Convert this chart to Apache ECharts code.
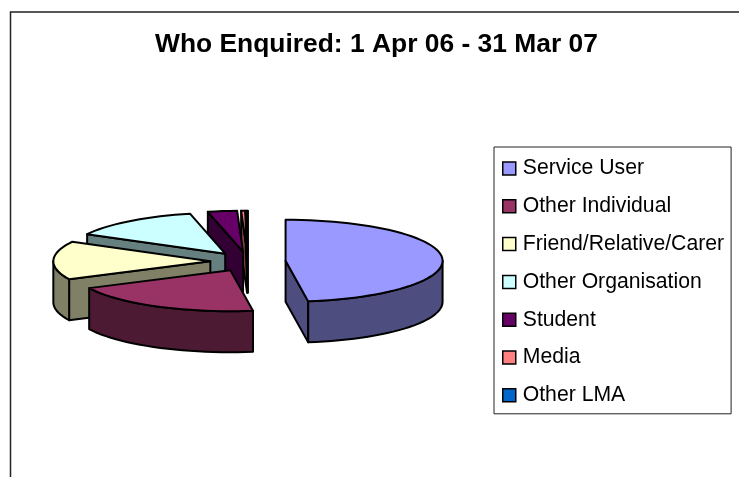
<!DOCTYPE html>
<html>
<head>
<meta charset="utf-8">
<title>Who Enquired</title>
<script src="https://cdn.jsdelivr.net/npm/echarts@6/dist/echarts.min.js"></script>
<style>
html,body{margin:0;padding:0;background:#fff}
#main{width:739px;height:477px}
</style>
</head>
<body>
<div id="main"></div>
<script>
var categories = ['Service User','Other Individual','Friend/Relative/Carer','Other Organisation','Student','Media','Other LMA']
var shares = [47.7,20.1,15.1,13.5,3.0,0.4,0.2]
var topColors = ['#9999FF','#993366','#FFFFCC','#CCFFFF','#660066','#FF8080','#0066CC']
var wallColors = ['#4D4D80','#4D1A33','#808066','#668080','#330033','#804040','#003366']

// pie layout, tilted like the old 3d excel pie
var pie = {cx:248, cy:261.5, rx:157, ry:41, depth:41, explode:0.24}

function planePoint(ox, oy, deg, r) {
	var a = deg * Math.PI / 180
	return [ox + pie.rx * r * Math.sin(a), oy - pie.ry * r * Math.cos(a)]
}
function drop(p) {
	return [p[0], p[1] + pie.depth]
}
function arcPoints(ox, oy, from, to) {
	var list = []
	var steps = Math.max(1, Math.ceil((to - from) / 3))
	for (var i = 0; i <= steps; i++) {
		list.push(planePoint(ox, oy, from + (to - from) * i / steps, 1))
	}
	return list
}
function face(points, fill, z2) {
	return {
		type: 'polygon',
		z2: z2,
		shape: {points: points},
		style: {fill: fill, stroke: '#000', lineWidth: 2, lineJoin: 'round'}
	}
}
function cutWall(apex, edge, fill, z2) {
	return face([apex, edge, drop(edge), drop(apex)], fill, z2)
}

function renderSlice(params, api) {
	var i = params.seriesIndex
	var from = api.value(0) / 100 * 360
	var to = api.value(1) / 100 * 360
	var mid = (from + to) / 2
	var apex = planePoint(pie.cx, pie.cy, mid, pie.explode)
	var ox = apex[0], oy = apex[1]
	var base = Math.round((1 - Math.cos(mid * Math.PI / 180)) * 1000)
	var kids = []

	// cut faces only show when they turn towards the viewer
	if (Math.sin(from * Math.PI / 180) < 0) {
		kids.push(cutWall(apex, planePoint(ox, oy, from, 1), wallColors[i], base))
	}
	if (Math.sin(to * Math.PI / 180) > 0) {
		kids.push(cutWall(apex, planePoint(ox, oy, to, 1), wallColors[i], base))
	}
	// outer wall, front half of the ellipse only
	var a = Math.max(from, 90), b = Math.min(to, 270)
	if (b > a) {
		var rim = arcPoints(ox, oy, a, b)
		kids.push(face(rim.concat(rim.map(drop).reverse()), wallColors[i], base + 1))
	}
	kids.push(face([apex].concat(arcPoints(ox, oy, from, to)), topColors[i], base + 2))
	return {type: 'group', children: kids}
}

var series = []
var sum = 0
for (var i = 0; i < categories.length; i++) {
	series.push({
		type: 'custom',
		name: categories[i],
		coordinateSystem: 'none',
		silent: true,
		itemStyle: {color: topColors[i]},
		renderItem: renderSlice,
		data: [[sum, sum + shares[i]]]
	})
	sum += shares[i]
}

var myChart = echarts.init(document.getElementById('main'))
myChart.setOption({
	animation: false,
	backgroundColor: '#fff',
	graphic: [{
		type: 'rect',
		shape: {x: 10.5, y: 12, width: 900, height: 700},
		style: {fill: 'none', stroke: '#222', lineWidth: 1.5}
	}],
	title: {
		text: 'Who Enquired: 1 Apr 06 - 31 Mar 07',
		left: 155,
		top: 32,
		padding: 0,
		textStyle: {fontFamily: 'Liberation Sans', fontSize: 26.4, fontWeight: 'bold', color: '#000'}
	},
	legend: {
		orient: 'vertical',
		left: 494,
		top: 147,
		padding: [11, 7, 8, 8],
		borderColor: '#222',
		borderWidth: 1,
		backgroundColor: '#fff',
		icon: 'rect',
		itemWidth: 13,
		itemHeight: 13,
		itemGap: 16.8,
		itemStyle: {borderColor: '#000', borderWidth: 1.5},
		data: categories,
		textStyle: {fontFamily: 'Liberation Sans', fontSize: 21.2, color: '#000', padding: [0, 0, 0, 2], lineHeight: 21}
	},
	series: series
})
</script>
</body>
</html>
